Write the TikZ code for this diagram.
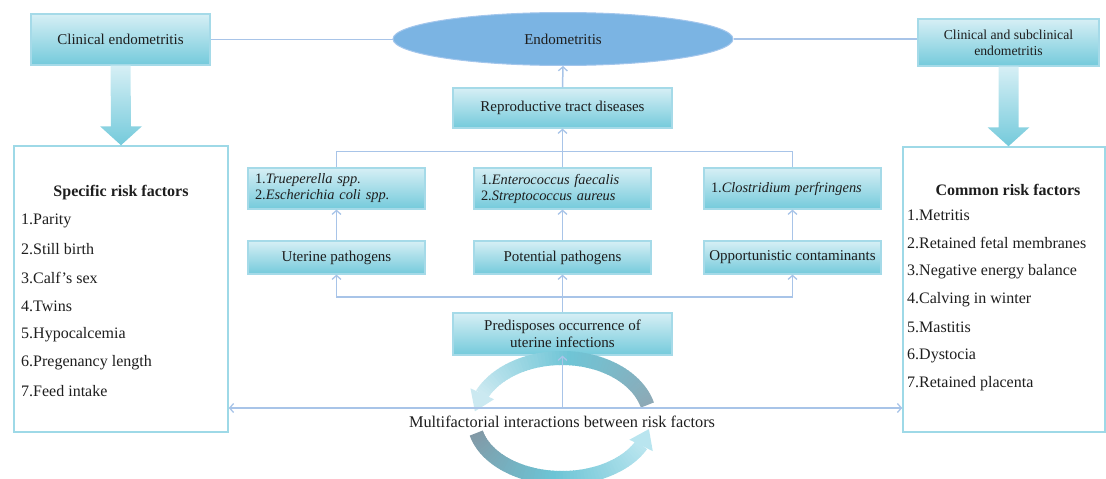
\documentclass[tikz,border=0pt]{standalone}
\usepackage{fontspec}
\setmainfont{Liberation Serif}
\usetikzlibrary{arrows.meta,calc,shapes.geometric}
\definecolor{conn}{HTML}{A8C4E8}
\definecolor{boxtop}{HTML}{D6EFF5}
\definecolor{boxbot}{HTML}{74CADB}
\definecolor{boxline}{HTML}{A5DAE8}
\definecolor{bigline}{HTML}{9ED9E7}
\definecolor{ellfill}{HTML}{7BB4E3}
\definecolor{ellline}{HTML}{A3C6EC}
\definecolor{txt}{HTML}{1E1E1E}
\definecolor{uA}{HTML}{8DA9B6}
\definecolor{uB}{HTML}{6FC5D6}
\definecolor{uC}{HTML}{CBE9F1}
\definecolor{lA}{HTML}{8299A6}
\definecolor{lB}{HTML}{6CC4D5}
\definecolor{lC}{HTML}{B9E5EF}
\begin{document}
\begin{tikzpicture}[x=1pt,y=-1pt,
  every node/.style={text=txt, font=\fontsize{15}{17}\selectfont},
  gbox/.style={draw=boxline, line width=1.2pt, top color=boxtop, bottom color=boxbot, inner sep=0pt, align=center},
  bigbox/.style={draw=bigline, line width=1.5pt, fill=white, inner sep=0pt},
  conline/.style={draw=conn, line width=1.5pt},
  arr/.style={conline, -{Straight Barb[length=4pt,width=9pt,line width=1.3pt]}},
  bigarrow/.style={top color=boxtop, bottom color=boxbot, draw=none},
  item/.style={anchor=west, inner sep=0pt, font=\fontsize{16}{18}\selectfont},
  bugs/.style={gbox, align=left, text width=163pt, inner xsep=7pt, minimum height=41pt, font=\itshape\fontsize{14.4}{16}\selectfont}
]
\useasboundingbox (0,0) rectangle (1106,479);

% big boxes
\node[bigbox, minimum width=214pt, minimum height=286pt] (spec) at (121,289) {};
\node[bigbox, minimum width=202pt, minimum height=285pt] (comm) at (1004,289.5) {};

% top nodes
\node[gbox, minimum width=179pt, minimum height=51pt] (ce) at (120.5,39.5) {Clinical endometritis};
\node[ellipse, draw=ellline, line width=1pt, fill=ellfill, minimum width=340pt, minimum height=53pt, inner sep=0pt] (endo) at (563,39) {Endometritis};
\node[gbox, minimum width=181pt, minimum height=47pt, font=\fontsize{13.7}{16}\selectfont] (cse) at (1008.5,42.5) {Clinical and subclinical\\endometritis};

\draw[conline] (ce.east) -- (endo.west |- ce.east);
\draw[conline] (endo.east) -- (cse.west |- endo.east);

% big arrows
\shade[bigarrow] ($(ce.south)+(-10,0)$) -- ($(ce.south)+(10,0)$) -- ($(spec.north)+(10,-19)$) -- ($(spec.north)+(21,-19)$) -- (spec.north) -- ($(spec.north)+(-21,-19)$) -- ($(spec.north)+(-10,-19)$) -- cycle;
\shade[bigarrow] ($(cse.south)+(-10,0)$) -- ($(cse.south)+(10,0)$) -- ($(cse.south |- comm.north)+(10,-19)$) -- ($(cse.south |- comm.north)+(21,-19)$) -- (cse.south |- comm.north) -- ($(cse.south |- comm.north)+(-21,-19)$) -- ($(cse.south |- comm.north)+(-10,-19)$) -- cycle;

% middle nodes
\node[gbox, minimum width=219pt, minimum height=40pt] (rtd) at (562.5,108) {Reproductive tract diseases};
\node[bugs] (a1) at (336.5,188.5) {\upshape 1.\itshape Trueperella spp.\\\upshape 2.\itshape Escherichia coli spp.};
\node[bugs] (b1) at (562.5,188.5) {\upshape 1.\itshape Enterococcus faecalis\\\upshape 2.\itshape Streptococcus aureus};
\node[bugs] (c1) at (792.5,188.5) {\upshape 1.\itshape Clostridium perfringens};
\node[gbox, minimum width=177pt, minimum height=33pt] (a2) at (336.5,257.5) {Uterine pathogens};
\node[gbox, minimum width=177pt, minimum height=33pt] (b2) at (562.5,257.5) {Potential pathogens};
\node[gbox, minimum width=177pt, minimum height=33pt] (c2) at (792.5,257.5) {Opportunistic contaminants};
\node[gbox, minimum width=219pt, minimum height=42pt] (pre) at (562.5,334) {Predisposes occurrence of\\uterine infections};

% circular arrows
\def\cx{562}\def\cy{420}
\foreach \i in {0,...,59}{
  \pgfmathsetmacro\ta{14+\i*2.35}
  \pgfmathsetmacro\tb{\ta+2.9}
  \ifnum\i<30 \pgfmathtruncatemacro\p{100-\i*100/30}\colorlet{segc}{uA!\p!uB}%
  \else \pgfmathtruncatemacro\p{100-(\i-30)*100/29}\colorlet{segc}{uB!\p!uC}\fi
  \draw[segc, line width=14pt] ({\cx+88*cos(\ta)},{\cy-62*sin(\ta)}) -- ({\cx+88*cos(\tb)},{\cy-62*sin(\tb)});
}
\fill[uC] ({\cx+101*cos(155)},{\cy-75*sin(155)}) -- ({\cx+75*cos(155)},{\cy-49*sin(155)}) -- ({\cx+88*cos(172)},{\cy-62*sin(172)}) -- cycle;
\foreach \i in {0,...,59}{
  \pgfmathsetmacro\ta{193+\i*2.35}
  \pgfmathsetmacro\tb{\ta+2.9}
  \ifnum\i<30 \pgfmathtruncatemacro\p{100-\i*100/30}\colorlet{segc}{lA!\p!lB}%
  \else \pgfmathtruncatemacro\p{100-(\i-30)*100/29}\colorlet{segc}{lB!\p!lC}\fi
  \draw[segc, line width=14pt] ({\cx+88*cos(\ta)},{\cy-58*sin(\ta)}) -- ({\cx+88*cos(\tb)},{\cy-58*sin(\tb)});
}
\fill[lC] ({\cx+101*cos(334)},{\cy-71*sin(334)}) -- ({\cx+75*cos(334)},{\cy-45*sin(334)}) -- ({\cx+88*cos(351)},{\cy-58*sin(351)}) -- cycle;

% connectors
\draw[arr] (rtd.north) -- (endo.south);
\draw[arr] (b1.north) -- (rtd.south);
\draw[conline] (a1.north) -- ++(0,-16) -| (c1.north);
\draw[arr] (a2.north) -- (a1.south);
\draw[arr] (b2.north) -- (b1.south);
\draw[arr] (c2.north) -- (c1.south);
\coordinate (bl) at (562.5,297);
\draw[arr] (bl) -| (a2.south);
\draw[arr] (bl) -| (c2.south);
\draw[arr] (pre.north) -- (b2.south);
\coordinate (mc) at (562.5,408);
\draw[arr] (mc) -- (pre.south);
\draw[arr] (mc) -- (spec.east |- mc);
\draw[arr] (mc) -- (comm.west |- mc);

\node[font=\fontsize{16.3}{18}\selectfont] (multi) at (562,422) {Multifactorial interactions between risk factors};

% list texts
\node[font=\bfseries\fontsize{16}{18}\selectfont] (spech) at (121,193) {Specific risk factors};
\node[item] (s1) at (21,221) {1.Parity};
\node[item] (s2) at (21,249.3) {2.Still birth};
\node[item] (s3) at (21,277.6) {3.Calf’s sex};
\node[item] (s4) at (21,305.9) {4.Twins};
\node[item] (s5) at (21,334.2) {5.Hypocalcemia};
\node[item] (s6) at (21,362.5) {6.Pregenancy length};
\node[item] (s7) at (21,390.8) {7.Feed intake};

\node[font=\bfseries\fontsize{16}{18}\selectfont] (commh) at (1008,190) {Common risk factors};
\node[item] (c1t) at (907,215) {1.Metritis};
\node[item] (c2t) at (907,243.1) {2.Retained fetal membranes};
\node[item] (c3t) at (907,271.2) {3.Negative energy balance};
\node[item] (c4t) at (907,299.3) {4.Calving in winter};
\node[item] (c5t) at (907,327.4) {5.Mastitis};
\node[item] (c6t) at (907,355.5) {6.Dystocia};
\node[item] (c7t) at (907,383.6) {7.Retained placenta};
\end{tikzpicture}
\end{document}
